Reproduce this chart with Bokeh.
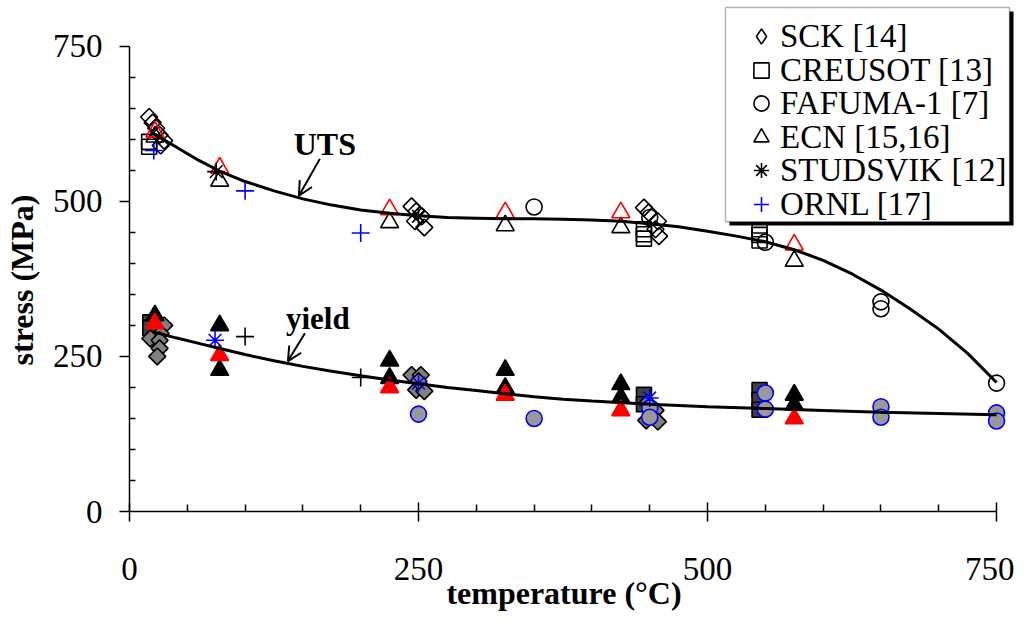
import math
from bokeh.plotting import figure
from bokeh.models import (Range1d, FixedTicker, Legend, LegendItem, Arrow, OpenHead,
                          BoxAnnotation, Label)
from bokeh.embed import file_html
from bokeh.resources import INLINE

# ---------------- data ----------------
sck_uts_t = [17, 20, 23, 26, 30, 27, 244, 248, 253, 247, 255, 445, 449, 457, 455, 458]
sck_uts_s = [636, 627, 618, 607, 598, 590, 492, 484, 476, 468, 458, 490, 482, 468, 455, 444]
sck_y_t = [30, 27, 18, 26, 26, 24, 244, 252, 248, 255, 250, 448, 455, 447, 457]
sck_y_s = [300, 287, 279, 276, 263, 250, 220, 220, 196, 194, 210, 175, 163, 147, 145]

cre_uts_t = [17, 17, 445, 445, 445, 545, 545, 545]
cre_uts_s = [596, 588, 455, 447, 440, 455, 446, 437]
cre_y_t = [18, 18, 445, 445, 545, 545, 545]
cre_y_s = [305, 296, 188, 173, 196, 180, 164]

faf_uts_t = [350, 450, 550, 650, 650, 750]
faf_uts_s = [491, 474, 434, 338, 327, 207]
faf_y_t = [250, 350, 450, 450, 550, 550, 650, 650, 750, 750]
faf_y_s = [157, 150, 167, 152, 191, 165, 169, 152, 159, 146]

ecn_uts_t = [22, 78, 225, 325, 425, 575]
ecn_uts_s = [604, 533, 466, 461, 458, 404]
ecn_y_t = [22, 78, 78, 225, 225, 325, 325, 425, 425, 575, 575]
ecn_y_s = [316, 300, 228, 243, 215, 228, 199, 205, 184, 188, 172]

ecn2_uts_t = [22, 78, 225, 325, 425, 575]
ecn2_uts_s = [612, 554, 487, 482, 482, 430]
ecn2_y_t = [22, 78, 225, 325, 425, 575]
ecn2_y_s = [303, 252, 200, 188, 163, 150]

stu_uts_t = [75, 250]
stu_uts_s = [548, 476]
stu_y_t = [74, 250, 450]
stu_y_s = [276, 207, 183]

ornl_uts_t = [21, 100, 200]
ornl_uts_s = [582, 517, 449]
ornl_y_t = [100, 200]
ornl_y_s = [282, 216]

uts_fit_t = [20, 40, 60, 80, 100, 125, 150, 175, 200, 225, 250, 275, 300, 325, 350,
             375, 400, 425, 450, 475, 500, 525, 550, 575, 600, 625, 650, 675, 700, 725, 750]
uts_fit_s = [610, 588, 566, 547, 532, 517, 504, 494, 486, 481, 477, 474, 473, 472, 472,
             471, 470, 468, 464, 459, 452, 444, 435, 422, 405, 383, 357, 327, 294, 255, 208]

yield_fit_t = [20, 40, 60, 80, 100, 125, 150, 175, 200, 225, 250, 275, 300, 325, 350,
               375, 400, 450, 500, 550, 600, 650, 700, 750]
yield_fit_s = [290, 280, 271, 262, 253, 243, 234, 226, 219, 212, 206, 200, 195, 190, 185,
               181, 178, 173, 169, 166, 163, 160, 158, 156]

x_major = [0, 250, 500, 750]
x_minor = [50, 100, 150, 200, 300, 350, 400, 450, 550, 600, 650, 700]
y_major = [0, 250, 500, 750]
y_minor = [50, 100, 150, 200, 300, 350, 400, 450, 550, 600, 650, 700]

legend_labels = ["SCK [14]", "CREUSOT [13]", "FAFUMA-1 [7]", "ECN [15,16]",
                 "STUDSVIK [12]", "ORNL [17]"]

# ---------------- geometry (canvas px) ----------------
W, H = 1014, 613
FL, FB = 126, 513             # frame left / bottom; frame fills to top and right edges
Y750 = 46                     # canvas y of 750 MPa
PX_X = 870 / 750.0            # px per degC
PX_Y = (FB - Y750) / 750.0    # px per MPa
XMAX = (W - FL) / PX_X
YMAX = FB / PX_Y

def dx(cx):
    return (cx - FL) / PX_X

def dy(cy):
    return (FB - cy) / PX_Y

SERIF = "Liberation Serif"
NBSP = "\u00a0"

p = figure(width=W, height=H, x_range=Range1d(0, XMAX), y_range=Range1d(0, YMAX),
           output_backend="svg", toolbar_location=None,
           min_border_left=FL, min_border_right=0, min_border_top=0,
           min_border_bottom=H - FB)
p.outline_line_color = None
p.grid.visible = False
p.background_fill_color = "white"

for ax, maj, mnr in ((p.xaxis[0], x_major, x_minor), (p.yaxis[0], y_major, y_minor)):
    ax.ticker = FixedTicker(ticks=maj, minor_ticks=mnr)
    ax.bounds = (0, 750)
    ax.axis_line_color = "black"
    ax.axis_line_width = 1.5
    ax.major_tick_line_color = "black"
    ax.major_tick_line_width = 1.5
    ax.minor_tick_line_color = "black"
    ax.minor_tick_line_width = 1.5
    ax.major_label_text_font = SERIF
    ax.major_label_text_font_size = "33px"
    ax.major_label_text_color = "black"
    ax.axis_label_text_font = SERIF
    ax.axis_label_text_font_style = "bold"
    ax.axis_label_text_font_size = "32px"
    ax.axis_label_text_color = "black"
    ax.minor_tick_out = 0

# trailing no-break spaces centre the visible label on the 0-750 axis span
p.xaxis[0].axis_label = "temperature (°C)" + NBSP * 2
p.xaxis[0].major_tick_in = 9
p.xaxis[0].major_tick_out = 10
p.xaxis[0].minor_tick_in = 7
p.xaxis[0].major_label_standoff = 36
p.xaxis[0].axis_label_standoff = -8

p.yaxis[0].axis_label = "stress (MPa)" + NBSP * 6
p.yaxis[0].major_tick_in = 0
p.yaxis[0].major_tick_out = 10
p.yaxis[0].minor_tick_in = 6
p.yaxis[0].major_label_standoff = 17
p.yaxis[0].axis_label_standoff = 10

LW = 1.6
DIAM = math.pi / 4
# yield (filled) markers
p.scatter(cre_y_t, cre_y_s, marker="square", size=15, fill_color="#404040",
          line_color="black", line_width=LW)
p.scatter(sck_y_t, sck_y_s, marker="square", angle=DIAM, size=12, fill_color="#808080",
          line_color="black", line_width=LW)
p.scatter(faf_y_t, faf_y_s, marker="circle", size=16, fill_color="#999999",
          line_color="#0000ff", line_width=LW)
p.scatter(ecn_y_t, ecn_y_s, marker="triangle", size=18, fill_color="black",
          line_color="black", line_width=LW)
p.scatter(ecn2_y_t, ecn2_y_s, marker="triangle", size=18, fill_color="#ff0000",
          line_color="#ff0000", line_width=LW)
p.scatter(stu_y_t, stu_y_s, marker="asterisk", size=18, line_color="#0000ff", line_width=LW)
p.scatter(ornl_y_t, ornl_y_s, marker="cross", size=18, line_color="black", line_width=LW)

# UTS (open) markers
r_cre = p.scatter(cre_uts_t, cre_uts_s, marker="square", size=15, fill_color=None,
                  line_color="black", line_width=LW)
p.scatter(sck_uts_t, sck_uts_s, marker="square", angle=DIAM, size=12, fill_color=None,
          line_color="black", line_width=LW)
r_faf = p.scatter(faf_uts_t, faf_uts_s, marker="circle", size=16, fill_color=None,
                  line_color="black", line_width=LW)
r_ecn = p.scatter(ecn_uts_t, ecn_uts_s, marker="triangle", size=18, fill_color=None,
                  line_color="black", line_width=LW)
p.scatter(ecn2_uts_t, ecn2_uts_s, marker="triangle", size=18, fill_color=None,
          line_color="#ff0000", line_width=LW)
r_stu = p.scatter(stu_uts_t, stu_uts_s, marker="asterisk", size=18, line_color="black",
                  line_width=LW)
r_ornl = p.scatter(ornl_uts_t, ornl_uts_s, marker="cross", size=18, line_color="#0000ff",
                   line_width=LW)
# hidden twin of the SCK series, used only for its legend glyph
# (legend glyphs are drawn unrotated, so a rotated square would show as a square)
r_sck_leg = p.scatter(sck_uts_t, sck_uts_s, marker="diamond", size=16, fill_color=None,
                      line_color="black", line_width=LW, visible=False)

# fitted curves
p.line(uts_fit_t, uts_fit_s, line_color="black", line_width=3)
p.line(yield_fit_t, yield_fit_s, line_color="black", line_width=3)

# curve labels and arrows
p.add_layout(Label(x=dx(322), y=dy(144), text="UTS", text_font=SERIF, text_font_style="bold",
                   text_font_size="32px", text_align="center", text_baseline="middle",
                   text_color="black"))
p.add_layout(Label(x=dx(315), y=dy(319), text="yield", text_font=SERIF, text_font_style="bold",
                   text_font_size="31px", text_align="center", text_baseline="middle",
                   text_color="black"))
p.add_layout(Arrow(end=OpenHead(size=14, line_width=2, line_color="black"),
                   x_start=dx(317), y_start=dy(159), x_end=dx(296), y_end=dy(196),
                   line_width=2, line_color="black"))
p.add_layout(Arrow(end=OpenHead(size=14, line_width=2, line_color="black"),
                   x_start=dx(302), y_start=dy(334), x_end=dx(285), y_end=dy(362),
                   line_width=2, line_color="black"))

# legend box with drop shadow
BOX_L, BOX_T, BOX_R, BOX_B, SH = 724, 7, 1009, 222, 4
p.add_layout(BoxAnnotation(left=dx(BOX_L + SH), right=dx(BOX_R + SH), top=dy(BOX_T + SH),
                           bottom=dy(BOX_B + SH), fill_color="black", fill_alpha=1.0,
                           line_color=None, level="annotation"))
p.add_layout(BoxAnnotation(left=dx(BOX_L), right=dx(BOX_R), top=dy(BOX_T), bottom=dy(BOX_B),
                           fill_color="white", fill_alpha=1.0, line_color="black",
                           line_width=1.5, level="annotation"))

# one legend row per source, stacked inside the box
ROW0, PITCH, ROW_H = 38, 33.6, 38
GLYPH_CX, TEXT_X = 758, 771
for i, (lab, r) in enumerate(zip(legend_labels,
                                 [r_sck_leg, r_cre, r_faf, r_ecn, r_stu, r_ornl])):
    cy = ROW0 + PITCH * i
    gx = GLYPH_CX - ROW_H // 2
    leg = Legend(items=[LegendItem(label=lab, renderers=[r])],
                 location=(gx - FL, int(round(FB - (cy + ROW_H / 2)))),
                 orientation="vertical", click_policy="none",
                 label_text_font=SERIF, label_text_font_size="33px",
                 label_text_color="black",
                 padding=0, spacing=0, margin=0, glyph_width=ROW_H, glyph_height=ROW_H,
                 label_height=20, label_standoff=TEXT_X - (gx + ROW_H),
                 border_line_color=None, background_fill_alpha=0.0)
    p.add_layout(leg)

open("out.html", "w").write(file_html(p, INLINE))
